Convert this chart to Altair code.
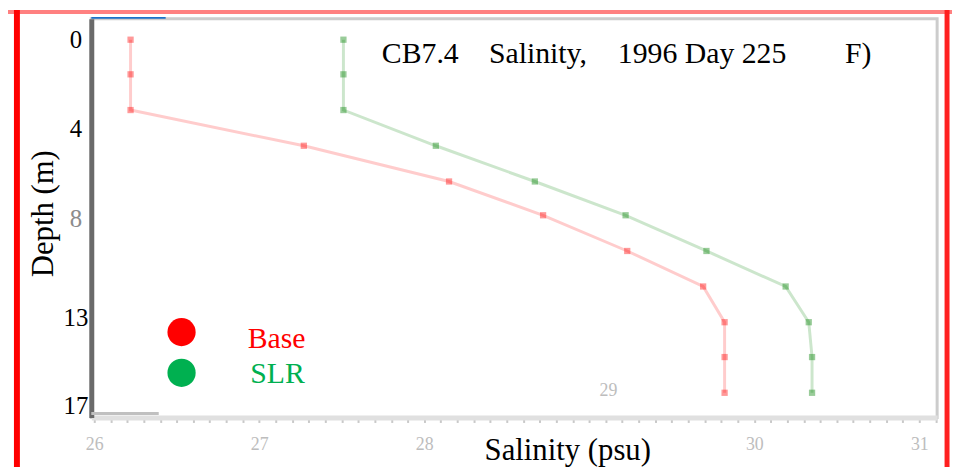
import altair as alt
import pandas as pd

# ---- data ----
depth_m = [0.0, 1.61, 3.27, 4.93, 6.59, 8.16, 9.82, 11.47, 13.13, 14.75, 16.41]
base_psu = [26.22, 26.22, 26.22, 27.27, 28.15, 28.72, 29.23, 29.69, 29.82, 29.82, 29.82]
slr_psu = [27.51, 27.51, 27.51, 28.07, 28.67, 29.22, 29.71, 30.19, 30.33, 30.35, 30.35]
series_names = ["Base", "SLR"]
x_tick_labels = [26, 27, 28, 30, 31]
y_tick_values = [0, 4.15, 8.3, 12.9, 17]
title_parts = ["CB7.4", "Salinity,", "1996 Day 225", "F)"]

FONT = "Liberation Serif"

df = pd.DataFrame({
    "Depth": depth_m + depth_m,
    "Salinity": base_psu + slr_psu,
    "Series": [series_names[0]] * len(depth_m) + [series_names[1]] * len(depth_m),
})

# annotation tables (positions in data units)
title_df = pd.DataFrame({
    "text": title_parts,
    "x": [27.743, 28.392, 29.173, 30.549],
    "y": [1.106] * 4,
})
legend_df = pd.DataFrame({
    "label": series_names,
    "color": ["#ff0000", "#00b050"],
    "cx": [26.529, 26.529],
    "cy": [13.59, 15.48],
    "tx": [26.93, 26.945],
    "ty": [14.33, 15.94],
})
stray_df = pd.DataFrame({"text": ["29"], "x": [29.116], "y": [16.54]})

xscale = alt.Scale(domain=[25.982, 31.108], nice=False, zero=False)
yscale = alt.Scale(domain=[-0.968, 17.558], reverse=True, nice=False, zero=False)
cscale = alt.Scale(domain=series_names, range=["#ff0000", "#008000"])

x_minor = [round(26 + i * 0.1, 1) for i in range(52)]
label_test = " || ".join(f"abs(datum.value - {v}) < 0.01" for v in x_tick_labels)

xaxis = alt.Axis(
    values=x_minor,
    labelExpr=f"({label_test}) ? format(round(datum.value), 'd') : ''",
    labelOverlap=False, labelFlush=False, labelBound=False,
    labelFont=FONT, labelFontSize=18, labelColor="#bdbdbd", labelPadding=13,
    tickSize=5, tickWidth=2, tickColor="#c8c8c8",
    domainColor="#e0e0e0", domainWidth=5, grid=False,
    title="Salinity (psu)", titleFont=FONT, titleFontSize=31, titleFontWeight="normal",
    titleColor="#000000", titleX=480, titleY=42, titleBaseline="alphabetic", titleAlign="center",
)
yaxis = alt.Axis(
    values=y_tick_values,
    labelExpr="format(round(datum.value), 'd')",
    labelOverlap=False, labelFlush=False, labelBound=False,
    labelFont=FONT, labelFontSize=25, labelAlign="center", labelBaseline="middle",
    labelPadding=16,
    labelColor={"condition": {"test": "datum.value == 8.3", "value": "#8c8c8c"}, "value": "#000000"},
    ticks=False, domainColor="#6a6a6a", domainWidth=5, grid=False,
    title="Depth (m)", titleFont=FONT, titleFontSize=31, titleFontWeight="normal",
    titleColor="#000000", titleAngle=-90, titleX=-48, titleY=196,
    titleBaseline="middle", titleAlign="center",
)

base = alt.Chart(df)

lines = base.mark_line(strokeWidth=3, opacity=0.2).encode(
    x=alt.X("Salinity:Q", scale=xscale, axis=xaxis),
    y=alt.Y("Depth:Q", scale=yscale, axis=yaxis),
    color=alt.Color("Series:N", scale=cscale, legend=None),
    order=alt.Order("Depth:Q"),
)
points = base.mark_square(size=40, opacity=0.4).encode(
    x=alt.X("Salinity:Q", scale=xscale, axis=xaxis),
    y=alt.Y("Depth:Q", scale=yscale, axis=yaxis),
    color=alt.Color("Series:N", scale=cscale, legend=None),
)

leg_dots = alt.Chart(legend_df).mark_circle(size=810, opacity=1).encode(
    x=alt.X("cx:Q", scale=xscale, axis=xaxis),
    y=alt.Y("cy:Q", scale=yscale, axis=yaxis),
    color=alt.Color("color:N", scale=None),
)
leg_text = alt.Chart(legend_df).mark_text(
    font=FONT, fontSize=30, align="left", baseline="alphabetic"
).encode(
    x=alt.X("tx:Q", scale=xscale, axis=xaxis),
    y=alt.Y("ty:Q", scale=yscale, axis=yaxis),
    text="label:N",
    color=alt.Color("color:N", scale=None),
)
title_text = alt.Chart(title_df).mark_text(
    font=FONT, fontSize=30, align="left", baseline="alphabetic", color="#000000"
).encode(
    x=alt.X("x:Q", scale=xscale, axis=xaxis),
    y=alt.Y("y:Q", scale=yscale, axis=yaxis),
    text="text:N",
)
stray = alt.Chart(stray_df).mark_text(
    font=FONT, fontSize=18, align="center", baseline="alphabetic", color="#bdbdbd"
).encode(
    x=alt.X("x:Q", scale=xscale, axis=xaxis),
    y=alt.Y("y:Q", scale=yscale, axis=yaxis),
    text="text:N",
)

one = pd.DataFrame({"a": [0]})
deco_top_red = alt.Chart(one).mark_rule(color="#ff8080", strokeWidth=4).encode(
    x=alt.value(-84), x2=alt.value(868), y=alt.value(-7))
deco_left_red = alt.Chart(one).mark_rule(color="#ff0000", strokeWidth=6).encode(
    x=alt.value(-75), y=alt.value(-9), y2=alt.value(452))
deco_right_red = alt.Chart(one).mark_rule(color="#ff2020", strokeWidth=5).encode(
    x=alt.value(863), y=alt.value(-9), y2=alt.value(452))
deco_blue = alt.Chart(one).mark_rule(color="#1a70c8", strokeWidth=2).encode(
    x=alt.value(0), x2=alt.value(75), y=alt.value(-1))
deco_grey = alt.Chart(one).mark_rule(color="#c0c0c0", strokeWidth=3).encode(
    x=alt.value(0), x2=alt.value(68), y=alt.value(398))

chart = alt.layer(
    lines, points, leg_dots, leg_text, title_text, stray,
    deco_top_red, deco_left_red, deco_right_red, deco_blue, deco_grey,
).properties(
    width=853, height=402,
    autosize=alt.AutoSizeParams(type="none"),
    padding={"left": 84, "top": 9, "right": 15, "bottom": 50},
    background="#ffffff",
).configure_view(
    stroke="#cccccc", strokeWidth=3
).configure_axis(
    labelOverlap=False
)

chart.save("out.html", embed_options={"renderer": "svg", "actions": False})
